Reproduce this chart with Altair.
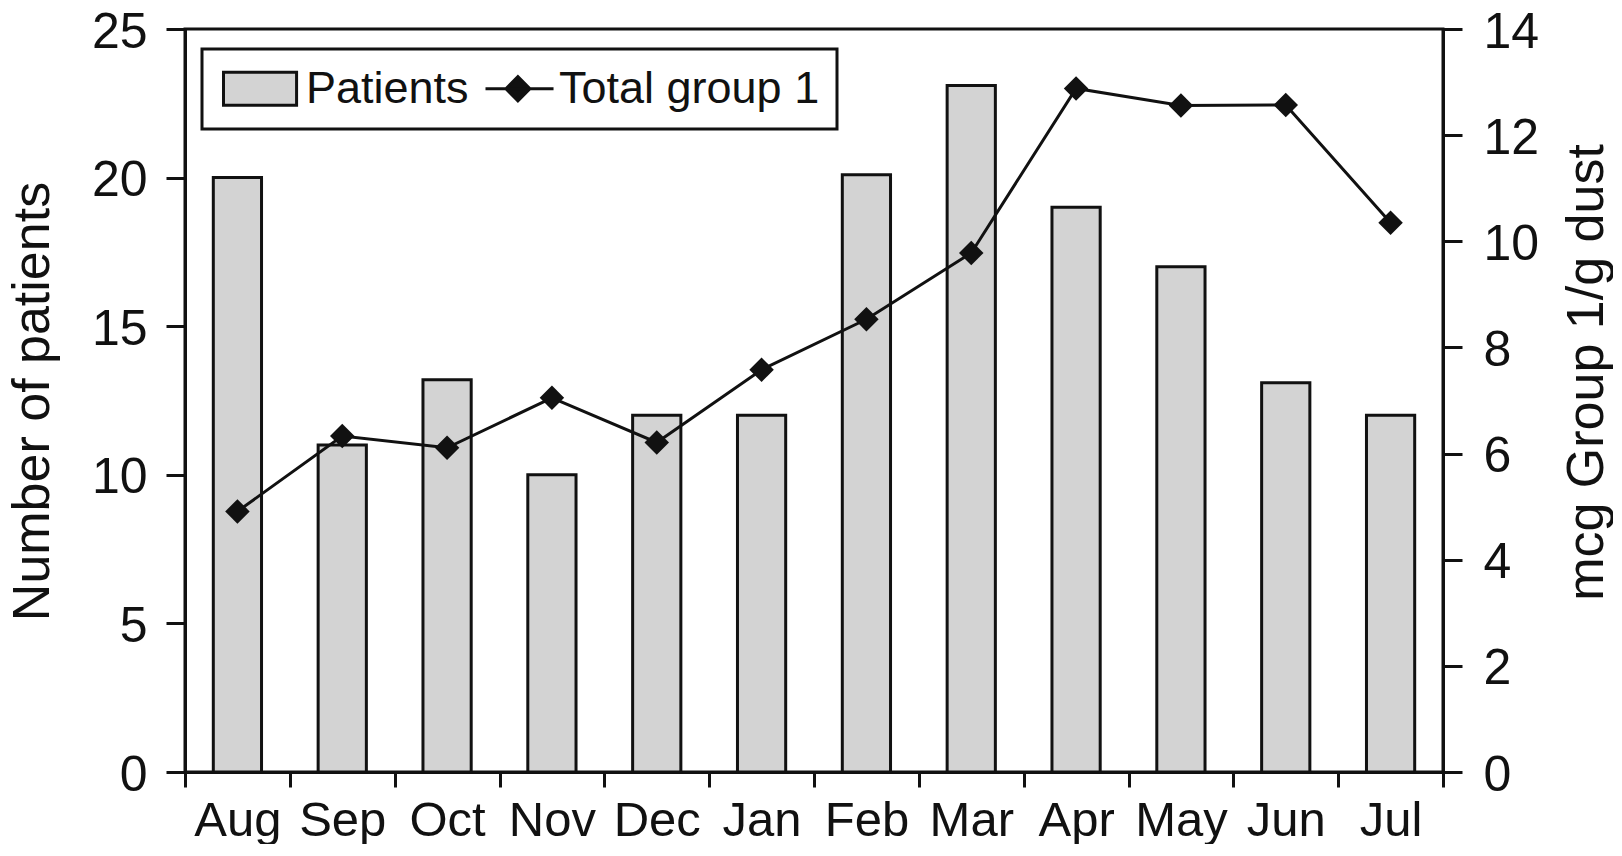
import altair as alt
import pandas as pd

# ---- data ----
months = ["Aug", "Sep", "Oct", "Nov", "Dec", "Jan", "Feb", "Mar", "Apr", "May", "Jun", "Jul"]
patients = [20, 11, 13.2, 10, 12, 12, 20.1, 23.1, 19, 17, 13.1, 12]
group1 = [4.91, 6.33, 6.11, 7.05, 6.21, 7.58, 8.53, 9.78, 12.88, 12.56, 12.57, 10.35]
series_names = ["Patients", "Total group 1"]
left_ticks = [0, 5, 10, 15, 20, 25]
right_ticks = [0, 2, 4, 6, 8, 10, 12, 14]

FONT = "Liberation Sans"
INK = "#111111"
BAR_FILL = "#d3d3d3"

df = pd.DataFrame({"month": months, "patients": patients, "group1": group1})
legend_df = pd.DataFrame({"series": series_names})

# legend symbol paths (units of sqrt(size)/2)
rect_path = "M-1,-0.917H3.06V0.917H-1Z"
line_path = "M-0.5,0H3.28M0.633,0L1.3,-0.667L1.967,0L1.3,0.667Z"

x_enc = alt.X(
    "month:N",
    sort=months,
    scale=alt.Scale(paddingInner=0, paddingOuter=0),
    axis=alt.Axis(title=None, tickBand="extent", labelAngle=0, tickSize=15,
                  labelPadding=9, labelFontSize=49),
)

bars = alt.Chart(df).mark_bar(
    width=alt.RelativeBandSize(0.46), fill=BAR_FILL, stroke=INK, strokeWidth=3
).encode(
    x=x_enc,
    y=alt.Y(
        "patients:Q",
        scale=alt.Scale(domain=[0, 25], nice=False),
        axis=alt.Axis(orient="left", values=left_ticks, title="Number of patients",
                      tickSize=19, labelPadding=19, labelOffset=3,
                      titleX=-137, titleY=372,
                      titleAngle=270, titleBaseline="alphabetic", titleAlign="center"),
    ),
)

line = alt.Chart(df).mark_line(
    color=INK, strokeWidth=3,
    point=alt.OverlayMarkDef(shape="diamond", size=600, filled=True, color=INK),
).encode(
    x=x_enc,
    y=alt.Y(
        "group1:Q",
        scale=alt.Scale(domain=[0, 14], nice=False),
        axis=alt.Axis(orient="right", values=right_ticks, title="mcg Group 1/g dust",
                      tickSize=19, labelPadding=21, labelOffset=3,
                      titleX=159, titleY=343,
                      titleAngle=270, titleBaseline="alphabetic", titleAlign="center"),
    ),
)

legend = alt.Legend(
    title=None, orient="none", legendX=17, legendY=20, direction="horizontal", columns=2,
    symbolSize=1296, symbolStrokeColor=INK, symbolStrokeWidth=3, symbolOpacity=1,
    labelFontSize=45, labelOffset=42, labelLimit=600, columnPadding=3, padding=17,
    strokeColor=INK, fillColor="white", labelFont=FONT, labelColor=INK,
)

legend_layer = alt.Chart(legend_df).mark_point(
    filled=True, opacity=0, strokeWidth=3
).encode(
    shape=alt.Shape("series:N", scale=alt.Scale(domain=series_names, range=[rect_path, line_path]),
                    legend=legend),
    fill=alt.Fill("series:N", scale=alt.Scale(domain=series_names, range=[BAR_FILL, INK]),
                  legend=legend),
    stroke=alt.Stroke("series:N", scale=alt.Scale(domain=series_names, range=[INK, INK]),
                      legend=legend),
)

chart = (
    alt.layer(bars, line, legend_layer)
    .resolve_scale(y="independent")
    .properties(
        width=1258, height=743,
        autosize=alt.AutoSizeParams(type="none"),
        padding={"left": 177, "top": 21, "right": 170, "bottom": 72},
        background="white",
    )
    .configure(font=FONT)
    .configure_view(stroke=INK, strokeWidth=3)
    .configure_axis(
        domainColor=INK, domainWidth=3, tickColor=INK, tickWidth=3,
        labelColor=INK, titleColor=INK, labelFont=FONT, titleFont=FONT,
        labelFontSize=50, titleFontSize=52, titleFontWeight="normal", grid=False,
    )
    .configure_legend(strokeWidth=3)
)

chart.save("out.html", embed_options={"renderer": "svg", "actions": False})
